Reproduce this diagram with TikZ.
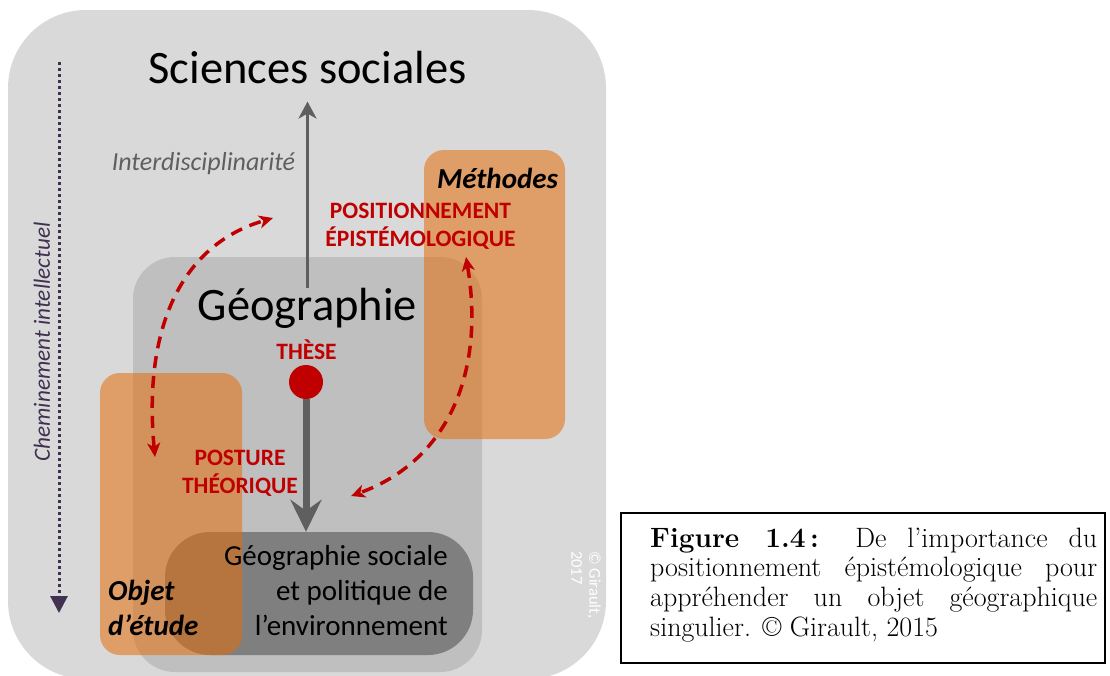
\documentclass[tikz,border=0pt]{standalone}
\usepackage{fontspec}
\usepackage{xcolor}
\usetikzlibrary{arrows.meta}
\newfontfamily\calib{Carlito}
\definecolor{lightpanel}{HTML}{D9D9D9}
\definecolor{geopanel}{HTML}{BFBFBF}
\definecolor{darkpanel}{HTML}{7F7F7F}
\definecolor{arrowgray}{HTML}{5F5F5F}
\definecolor{methorange}{HTML}{E46C0A}
\definecolor{thesered}{HTML}{C00000}
\definecolor{pathviolet}{HTML}{403151}

\begin{document}
\begin{tikzpicture}[x=1pt, y=-1pt, every node/.style={inner sep=0pt, font=\calib},%
        panel/.style={rounded corners=#1}, orangepanel/.style={panel=20pt, fill=methorange, fill opacity=0.55},%
        bigtitle/.style={font=\calib\fontsize{46.5}{54}\selectfont},%
        redlabel/.style={font=\calib\bfseries\fontsize{23.5}{27.5}\selectfont, text=thesered, align=center},%
        orangelabel/.style={font=\calib\bfseries\itshape\fontsize{29}{35}\selectfont},%
        uparrow/.style={line width=3pt, draw=arrowgray, -{Stealth[length=17pt, width=18pt, inset=5pt]}},%
        downarrow/.style={line width=7pt, draw=arrowgray, -{Stealth[length=32pt, width=31pt, inset=11pt]}},%
        redarc/.style={line width=3.5pt, draw=thesered, dash pattern=on 12pt off 8pt,%
                {Stealth[length=14pt, width=13pt, inset=4pt]}-{Stealth[length=14pt, width=13pt, inset=4pt]}},%
        chempath/.style={line width=3pt, draw=pathviolet, dash pattern=on 3pt off 3pt, -{Triangle[length=17pt, width=17pt]}}]
    \useasboundingbox (0,0) rectangle (1110,675);
    \clip (0,0) rectangle (1110,675);
    \node[panel=78pt, fill=lightpanel, minimum width=598pt, minimum height=669pt] (outer) at (307,344.5) {};
    \node[panel=42pt, fill=geopanel, minimum width=349pt, minimum height=415pt] (geobox) at (307.5,464.5) {};
    \node[panel=45pt, fill=darkpanel, minimum width=308pt, minimum height=123pt] (sgeobox) at (319,593.5) {};
    \node[orangepanel, minimum width=141pt, minimum height=289pt] (methbox) at (494.5,294.5) {};
    \node[orangepanel, minimum width=142pt, minimum height=282pt] (objbox) at (171,514) {};

    \node[bigtitle, anchor=base] (soc) at (307.5,83) {Sciences sociales};
    \node[bigtitle, anchor=base] (geo) at (307.5,320) {Géographie};
    \node[anchor=base, font=\calib\itshape\fontsize{26}{30}\selectfont, text=arrowgray] (interdisc) at (203.5,170) {Interdisciplinarité};
    \node[orangelabel, anchor=base] (meth) at (497.5,188) {Méthodes};
    \node[orangelabel, anchor=base west, align=left] (obj) at (108,635) {Objet\\d’étude};
    \node[redlabel, anchor=base] (posit) at (420.5,246) {POSITIONNEMENT\\ÉPISTÉMOLOGIQUE};
    \node[redlabel, anchor=base] (posture) at (240,493) {POSTURE\\THÉORIQUE};
    \node[redlabel, anchor=base] (these) at (306.5,359) {THÈSE};
    \node[circle, fill=thesered, minimum size=34pt] (dot) at (306,382) {};
    \node[anchor=base east, align=right, font=\calib\fontsize{29}{35}\selectfont] (sgeo) at (448,635) {Géographie sociale\\et politique de\\l’environnement};
    \node[rotate=90, font=\calib\itshape\fontsize{23.2}{27}\selectfont, text=pathviolet] (chem) at (42,342) {Cheminement intellectuel};
    \node[rotate=-90, anchor=north west, align=left, text=white, font=\calib\fontsize{16.5}{18}\selectfont] (copy) at (601,551) {© Girault,\\2017};

    \coordinate (chemtop) at (59,62);
    \coordinate (chembot) at (59,613);
    \coordinate (objin) at (155,457);
    \coordinate (episout) at (273,218);
    \coordinate (methin) at (466,257);
    \coordinate (postin) at (351,496);

    \draw[chempath] (chemtop) -- (chembot);
    \draw[uparrow, shorten >=18pt] (geo.north) -- (soc.south);
    \draw[downarrow] (dot.south) -- (dot.south |- sgeobox.north);
    \draw[redarc] (objin) .. controls (143,330) and (180,245) .. (episout);
    \draw[redarc] (methin) .. controls (485,370) and (450,460) .. (postin);

    \draw[line width=2pt] (621,513) rectangle (1105,663);
    \node[anchor=base west, text width=447pt, align=justify, font=\rmfamily\fontsize{28}{29.7}\selectfont] (caption) at (650,547)%
        {\textbf{Figure 1.4\,:} De l’importance du\linebreak positionnement épistémologique pour\linebreak appréhender un objet géographique\linebreak singulier. © Girault, 2015};
\end{tikzpicture}
\end{document}
